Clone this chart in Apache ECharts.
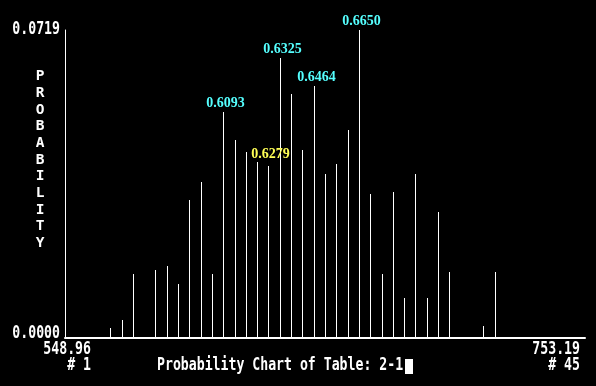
<!DOCTYPE html>
<html>
<head>
<meta charset="utf-8">
<script src="https://cdn.jsdelivr.net/npm/echarts@6/dist/echarts.min.js"></script>
<style>
html,body{margin:0;padding:0;background:#000;}
#chart{width:596px;height:386px;}
</style>
</head>
<body>
<div id="chart"></div>
<script>
// Bin numbers (#1 .. #45)
const bins = [1,2,3,4,5,6,7,8,9,10,11,12,13,14,15,16,17,18,19,20,21,22,23,24,25,26,27,28,29,30,31,32,33,34,35,36,37,38,39,40,41,42,43,44,45];
// Probability of each bin
const probabilities = [0,0,0,0.0023,0.0042,0.0149,0,0.0159,0.0168,0.0126,
  0.0322,0.0364,0.0149,0.0528,0.0462,0.0434,0.0411,0.0402,0.0654,0.0570,
  0.0439,0.0588,0.0383,0.0406,0.0486,0.0719,0.0336,0.0149,0.0341,0.0093,
  0.0383,0.0093,0.0294,0.0154,0,0,0.0028,0.0154,0,0,
  0,0,0,0,0];
// Annotated bins and their texts
const markedBins = [14, 18, 19, 22, 26];
const markedTexts = ['0.6093', '0.6279', '0.6325', '0.6464', '0.6650'];
const markedKinds = ['cyan', 'yellow', 'cyan', 'cyan', 'cyan'];
// Axis range texts
const yTickLabels = ['0.0000', '0.0719'];
const xRangeLabels = ['548.96', '753.19'];
const xBinLabels = ['# 1', '# 45'];
const yMax = 0.0719;
const titleText = 'Probability Chart of Table: 2-1';
const yAxisName = 'PROBABILITY';

const colors = {cyan: '#55ffff', yellow: '#ffff55'};
const monoFont = 'bold 13.2px "DejaVu Sans Mono"';

const data = bins.map((b, i) => {
  const k = markedBins.indexOf(b);
  return {value: [b, probabilities[i]], mark: k >= 0 ? markedTexts[k] : null, kind: k >= 0 ? markedKinds[k] : null};
});

const chart = echarts.init(document.getElementById('chart'), null, {renderer: 'canvas'});

function txt(text, x, y, align, sy) {
  return {
    type: 'text', x: x, y: y, scaleY: sy || 1.4, silent: true,
    style: {text: text, fill: '#fff', font: monoFont, textAlign: align, textVerticalAlign: 'middle', align: align, verticalAlign: 'middle'}
  };
}

const option = {
  backgroundColor: '#000',
  animation: false,
  grid: {left: 65, right: 11, top: 30, bottom: 48},
  xAxis: {
    type: 'value', min: 0, max: 46,
    axisLine: {show: true, lineStyle: {color: '#fff', width: 2}},
    axisTick: {show: false}, axisLabel: {show: false}, splitLine: {show: false}
  },
  yAxis: {
    type: 'value', min: 0, max: yMax,
    axisLine: {show: true, lineStyle: {color: '#fff', width: 1}},
    axisTick: {show: false}, axisLabel: {show: false}, splitLine: {show: false}
  },
  series: [{
    type: 'custom',
    data: data,
    clip: false,
    renderItem: function (params, api) {
      const b = api.value(0), v = api.value(1);
      const top = api.coord([b, v]);
      const base = api.coord([b, 0]);
      const px = Math.round(top[0]);
      const ty = Math.round(top[1]);
      const by = Math.round(base[1]) - 1;
      const item = data[params.dataIndex];
      const el = {
        type: 'rect',
        shape: {x: px, y: ty, width: 1, height: Math.max(0, by - ty)},
        style: {fill: '#fff'}
      };
      if (item.mark) {
        el.textContent = {
          style: {text: item.mark, fill: colors[item.kind], font: 'bold 14px "Liberation Serif"'}
        };
        el.textConfig = {position: 'top', distance: item.kind === 'yellow' ? 5 : 2, offset: [2, 0]};
      }
      return el;
    }
  }],
  graphic: [
    txt(yTickLabels[1], 60, 29, 'right'),
    txt(yTickLabels[0], 60, 333, 'right'),
    txt(xRangeLabels[0], 91, 349, 'right'),
    txt(xRangeLabels[1], 580, 349, 'right'),
    txt(xBinLabels[0], 91, 365.5, 'right'),
    txt(xBinLabels[1], 580, 365.5, 'right'),
    txt(titleText, 157, 365.5, 'left'),
    {type: 'rect', silent: true, shape: {x: 405, y: 359, width: 8, height: 15}, style: {fill: '#fff'}},
    {
      type: 'text', x: 40, y: 68, silent: true,
      style: {text: yAxisName.split('').join('\n'), fill: '#fff', font: 'bold 14.5px "DejaVu Sans Mono"', lineHeight: 16.7, textAlign: 'center', align: 'center', verticalAlign: 'top', textVerticalAlign: 'top'}
    }
  ]
};
chart.setOption(option);
</script>
</body>
</html>
